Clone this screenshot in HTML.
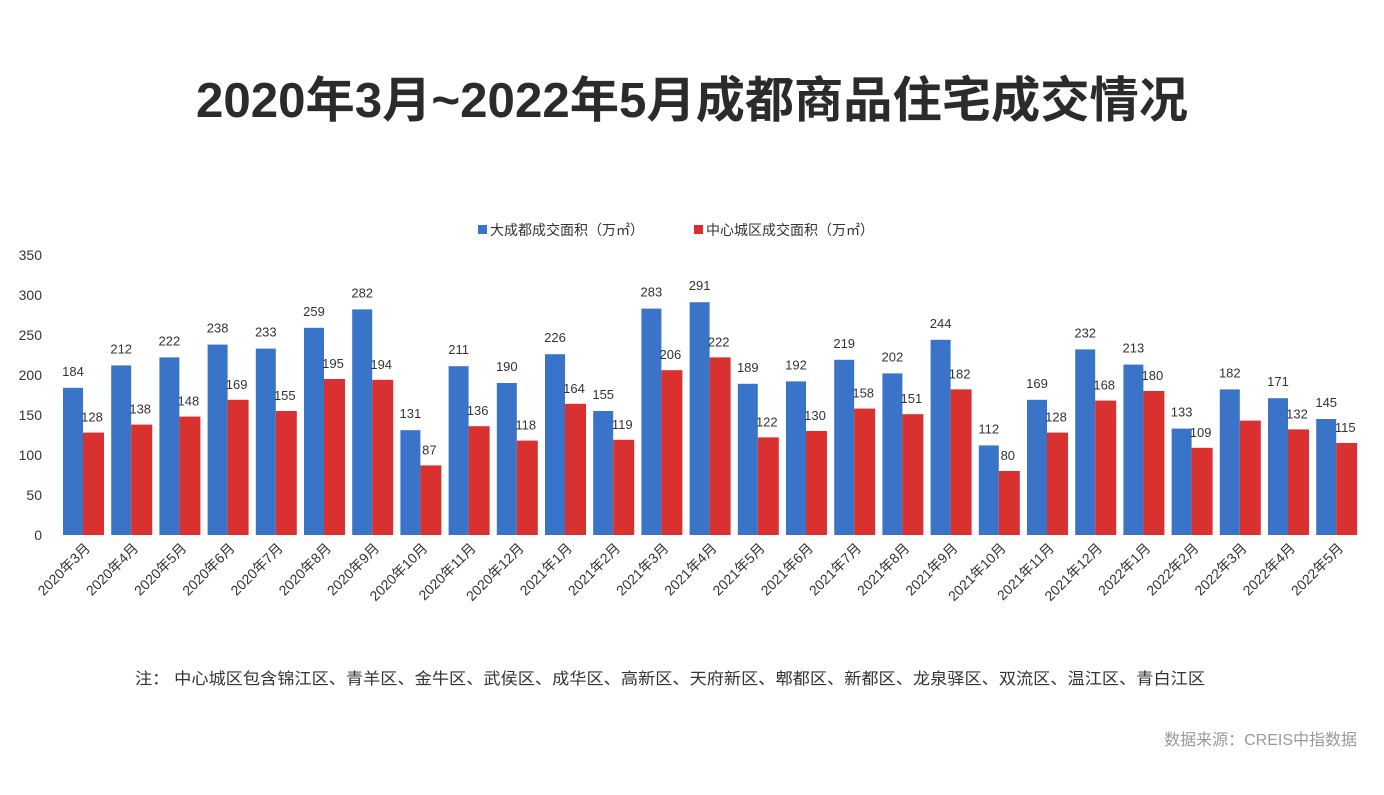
<!DOCTYPE html>
<html><head><meta charset="utf-8"><style>
body{margin:0;background:#fff;width:1384px;height:790px;overflow:hidden;font-family:"Liberation Sans","Noto Sans CJK SC",sans-serif}
</style></head><body>
<svg id="c" width="1384" height="790" font-family="Liberation Sans, Noto Sans CJK SC, sans-serif">
<text x="692" y="117" text-anchor="middle" font-size="49" font-weight="bold" fill="#2b2b2b" textLength="992" lengthAdjust="spacingAndGlyphs">2020年3月~2022年5月成都商品住宅成交情况</text>
<g>
<rect x="478" y="225" width="9" height="9" fill="#3a74c9"/>
<text x="490" y="235" font-size="14" fill="#333">大成都成交面积（万㎡）</text>
<rect x="694" y="225" width="9" height="9" fill="#d8312f"/>
<text x="706" y="235" font-size="14" fill="#333">中心城区成交面积（万㎡）</text>
</g>
<g id="axis"></g><g id="bars"></g>
<text x="135" y="684" font-size="16" fill="#333" textLength="1070" lengthAdjust="spacingAndGlyphs">注：  中心城区包含锦江区、青羊区、金牛区、武侯区、成华区、高新区、天府新区、郫都区、新都区、龙泉驿区、双流区、温江区、青白江区</text>
<text x="1357" y="745" text-anchor="end" font-size="16" fill="#999">数据来源：CREIS中指数据</text>
</svg>
<script>
const categories=["2020年3月","2020年4月","2020年5月","2020年6月","2020年7月","2020年8月","2020年9月","2020年10月","2020年11月","2020年12月","2021年1月","2021年2月","2021年3月","2021年4月","2021年5月","2021年6月","2021年7月","2021年8月","2021年9月","2021年10月","2021年11月","2021年12月","2022年1月","2022年2月","2022年3月","2022年4月","2022年5月"];
const totalArea=[184,212,222,238,233,259,282,131,211,190,226,155,283,291,189,192,219,202,244,112,169,232,213,133,182,171,145];
const centerArea=[128,138,148,169,155,195,194,87,136,118,164,119,206,222,122,130,158,151,182,80,128,168,180,109,143,132,115];
const centerLabels=["128","138","148","169","155","195","194","87","136","118","164","119","206","222","122","130","158","151","182","80","128","168","180","109","","132","115"];
const yTicks=[0,50,100,150,200,250,300,350];
const NS="http://www.w3.org/2000/svg";
const y0=535,yMax=350,ph=280,x0=63,step=48.2,bw=20;
const y=v=>y0-v/yMax*ph;
const x=i=>x0+i*step;
function mk(t,a,p,txt){const e=document.createElementNS(NS,t);for(const k in a)e.setAttribute(k,a[k]);if(txt!==undefined)e.textContent=txt;p.appendChild(e);return e;}
const ax=document.getElementById('axis'),bg=document.getElementById('bars');
yTicks.forEach(v=>{const t=mk('text',{x:42,y:y(v)+5,'text-anchor':'end','font-size':14,fill:'#333'},ax,String(v));

});
categories.forEach((c,i)=>{
const b=mk('rect',{x:x(i),y:y(totalArea[i]),width:bw,height:y0-y(totalArea[i]),fill:'#3a74c9'},bg);


const r=mk('rect',{x:x(i)+bw,y:y(centerArea[i]),width:bw+1,height:y0-y(centerArea[i]),fill:'#d8312f'},bg);


const l1=mk('text',{x:x(i)+bw/2,y:y(totalArea[i])-12,'text-anchor':'middle','font-size':13,fill:'#333'},bg,String(totalArea[i]));


if(centerLabels[i]){const l2=mk('text',{x:x(i)+bw+9,y:y(centerArea[i])-11,'text-anchor':'middle','font-size':13,fill:'#333'},bg,centerLabels[i]);

}
const cx=x(i)+bw+8,cy=y0+14;
const tl=mk('text',{x:cx,y:cy,'text-anchor':'end','font-size':14,fill:'#333',transform:`rotate(-45 ${cx} ${cy})`},ax,c);


});
</script>
</body></html>
